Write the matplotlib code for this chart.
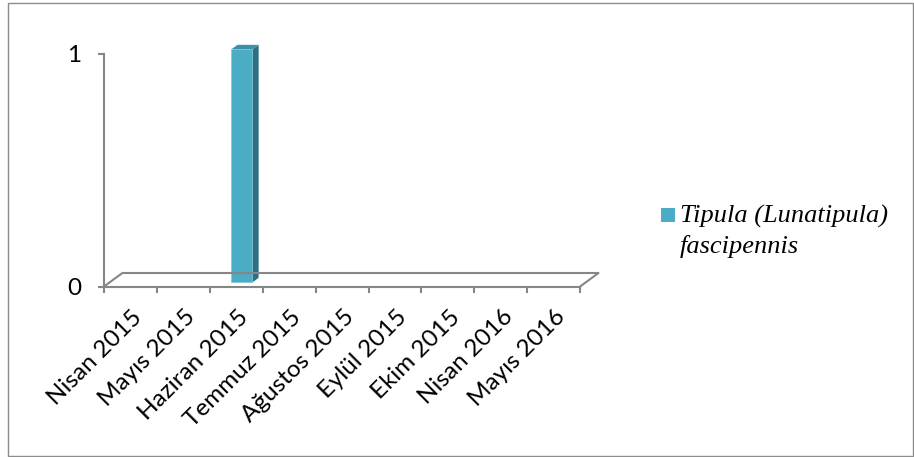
import matplotlib.pyplot as plt
from matplotlib.patches import Polygon, Rectangle

# data
months = ["Nisan 2015", "Mayıs 2015", "Haziran 2015", "Temmuz 2015", "Ağustos 2015",
          "Eylül 2015", "Ekim 2015", "Nisan 2016", "Mayıs 2016"]
counts = [0, 0, 1, 0, 0, 0, 0, 0, 0]
series_line1 = "Tipula (Lunatipula)"
series_line2 = "fascipennis"

# colours
front_col = '#4BACC6'
side_col = '#2E6F80'
top_col = '#3D90A8'
axis_col = '#868686'

# fake 3d depth (data units)
ddx, ddy = 0.36, 0.060      # floor depth
bar_w = 0.40
f0, f1 = 0.29, 0.62         # bar depth range as fraction of floor depth

W, H = 914, 457
fig = plt.figure(figsize=(W / 100, H / 100), dpi=100)
fig.patch.set_facecolor('white')

ax = fig.add_axes([77.55 / W, (H - 309.8) / H, 529.0 / W, 279.6 / H])
ax.set_xlim(-0.5, 9.5)
ax.set_ylim(-0.1, 1.1)
ax.set_facecolor('none')

for s in ['top', 'right']:
    ax.spines[s].set_visible(False)
ax.spines['left'].set_position(('data', 0))
ax.spines['left'].set_bounds(0, 1)
ax.spines['bottom'].set_position(('data', 0))
ax.spines['bottom'].set_bounds(0, len(months))
for s in ['left', 'bottom']:
    ax.spines[s].set_color(axis_col)
    ax.spines[s].set_linewidth(1.5)

ax.set_yticks([0, 1])
ax.set_yticklabels(['0', '1'])
ax.set_xticks(range(len(months) + 1))
ax.set_xticklabels([])
ax.tick_params(axis='both', direction='out', color=axis_col, width=1.5, length=4.5)
ax.tick_params(axis='y', pad=12, labelsize=17.5)
for lab in ax.get_yticklabels():
    lab.set_family('Lato')

# floor
n = len(months)
floor_kw = dict(color=axis_col, lw=1.5, clip_on=False, solid_capstyle='butt')
ax.plot([ddx, n + ddx], [ddy, ddy], **floor_kw)
ax.plot([0, ddx], [0, ddy], **floor_kw)
ax.plot([n, n + ddx], [0, ddy], **floor_kw)

# bars
for i, v in enumerate(counts):
    if v <= 0:
        continue
    x0 = i + 0.5 - bar_w / 2 + f0 * ddx
    x1 = x0 + bar_w
    y0 = f0 * ddy
    y1 = v + f0 * ddy
    d = f1 - f0
    ax.add_patch(Polygon([(x1, y0), (x1 + d * ddx, y0 + d * ddy),
                          (x1 + d * ddx, y1 + d * ddy), (x1, y1)],
                         closed=True, facecolor=side_col, edgecolor='none', clip_on=False))
    ax.add_patch(Polygon([(x0, y1), (x1, y1), (x1 + d * ddx, y1 + d * ddy),
                          (x0 + d * ddx, y1 + d * ddy)],
                         closed=True, facecolor=top_col, edgecolor='none', clip_on=False))
    ax.add_patch(Rectangle((x0, y0), bar_w, v, facecolor=front_col,
                           edgecolor='#7FC6D8', lw=0.5, clip_on=False))

# category labels
for i, m in enumerate(months):
    ax.text(i + 0.5 + 0.02, -0.085, m, rotation=45, ha='right', va='top',
            rotation_mode='anchor', fontsize=17.5, family='Lato')

# legend
fig.patches.append(Rectangle((661 / W, (H - 222) / H), 14 / W, 14 / H,
                             transform=fig.transFigure, facecolor=front_col, edgecolor='none'))
fig.text(680 / W, (H - 223) / H, series_line1, fontsize=19, style='italic',
         family='Liberation Serif', va='baseline')
fig.text(680 / W, (H - 253) / H, series_line2, fontsize=19, style='italic',
         family='Liberation Serif', va='baseline')

# outer frame
fig.patches.append(Rectangle((8 / W, 1 / H), 905 / W, 453 / H, transform=fig.transFigure,
                             facecolor='none', edgecolor='#8C8C8C', lw=1))

fig.savefig('out.png', dpi=100)
